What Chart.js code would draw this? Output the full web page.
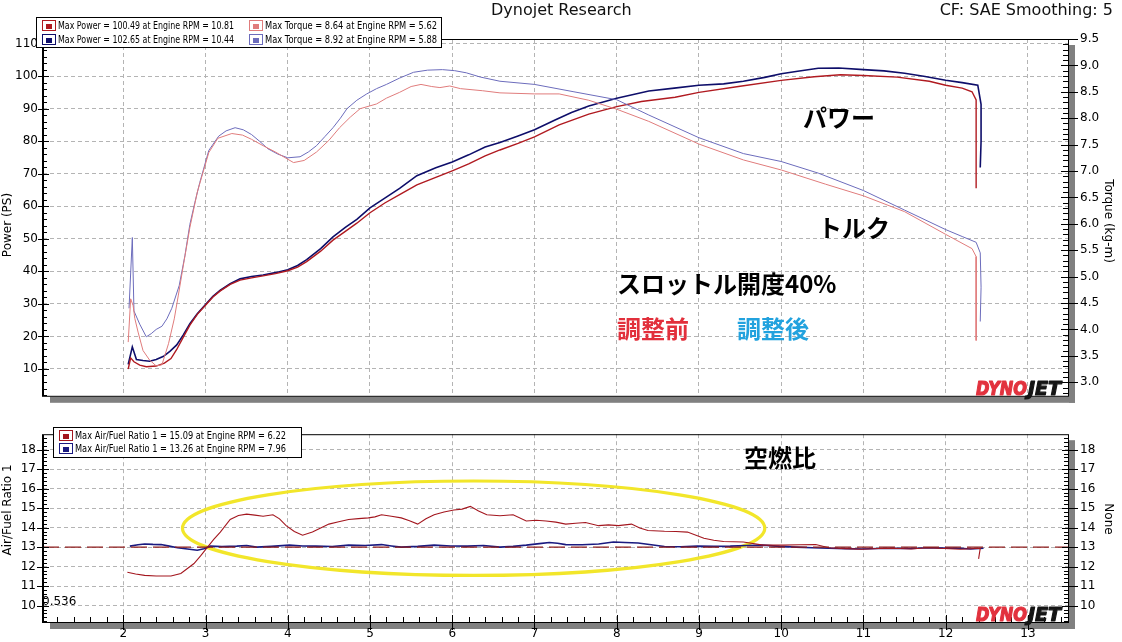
<!DOCTYPE html>
<html>
<head>
<meta charset="utf-8">
<script src="https://cdn.jsdelivr.net/npm/chart.js@4.4.1/dist/chart.umd.min.js"></script>
<style>
  body{margin:0;background:#fff;width:1122px;height:642px;overflow:hidden;position:relative;font-family:"DejaVu Sans",sans-serif}
  canvas{position:absolute;left:0}
  #c1{top:0}
  #c2{top:415px}
  .t{position:absolute;white-space:nowrap;line-height:1}
  .hd{font-size:16px;color:#111;top:2px}
  .jp{font-family:"Noto Sans CJK JP",sans-serif;font-weight:bold;font-size:24px;line-height:24px;color:#000}
</style>
</head>
<body>
<canvas id="c1" width="1122" height="415"></canvas>
<canvas id="c2" width="1122" height="227"></canvas>

<div class="t hd" style="left:491px">Dynojet Research</div>
<div class="t hd" style="right:9px">CF: SAE Smoothing: 5</div>

<div class="t jp" style="left:803px;top:105px">パワー</div>
<div class="t jp" style="left:818px;top:215px">トルク</div>
<div class="t jp" style="left:617px;top:271px">スロットル開度40%</div>
<div class="t jp" style="left:617px;top:316px;color:#e2303c">調整前</div>
<div class="t jp" style="left:737px;top:316px;color:#22a2de">調整後</div>
<div class="t jp" style="left:744px;top:445px">空燃比</div>

<script>
// ================= DATOS =================
const X_TICKS = [2,3,4,5,6,7,8,9,10,11,12,13];
const POWER_TICKS = [10,20,30,40,50,60,70,80,90,100,110];
const TORQUE_TICKS = [3.0,3.5,4.0,4.5,5.0,5.5,6.0,6.5,7.0,7.5,8.0,8.5,9.0,9.5];
const AFR_TICKS = [10,11,12,13,14,15,16,17,18];

// Potencia antes (rojo oscuro)
const PWR_BEFORE_RPM = [2.06,2.09,2.13,2.20,2.28,2.40,2.50,2.58,2.65,2.73,2.81,2.90,3.00,3.09,3.18,3.30,3.42,3.56,3.70,3.85,4.00,4.12,4.23,4.40,4.55,4.70,4.84,5.00,5.18,5.36,5.57,5.80,6.00,6.20,6.40,6.58,6.80,7.00,7.30,7.66,8.00,8.30,8.71,9.00,9.50,10.00,10.40,10.72,11.00,11.41,11.80,12.00,12.20,12.32,12.37,12.37];
const PWR_BEFORE = [10.0,13.4,12.2,11.2,10.7,10.9,11.8,13.2,16.0,19.8,23.5,26.8,29.6,32.1,34.0,36.0,37.3,38.0,38.6,39.3,40.2,41.3,43.0,46.2,49.6,52.3,54.8,58.0,61.0,63.6,66.6,68.9,70.9,73.0,75.5,77.3,79.3,81.3,85.0,88.3,90.6,92.2,93.5,95.0,96.9,98.7,99.8,100.4,100.2,99.7,98.4,97.2,96.3,95.2,92.7,65.5];

// Potencia después (azul marino)
const PWR_AFTER_RPM = [2.06,2.11,2.16,2.24,2.32,2.40,2.49,2.57,2.65,2.73,2.81,2.90,3.00,3.09,3.18,3.30,3.42,3.56,3.70,3.85,4.00,4.12,4.23,4.40,4.55,4.70,4.84,5.00,5.18,5.36,5.57,5.80,6.00,6.20,6.40,6.58,6.80,7.00,7.25,7.45,7.66,8.00,8.39,8.70,9.00,9.30,9.54,9.80,10.00,10.20,10.45,10.70,11.00,11.25,11.50,11.75,12.00,12.20,12.39,12.43,12.43,12.42];
const PWR_AFTER = [11.4,16.8,12.9,12.6,12.4,12.9,13.9,15.5,17.4,20.5,23.9,27.0,29.8,32.3,34.2,36.2,37.7,38.4,38.9,39.6,40.5,41.8,43.6,47.0,50.6,53.5,56.0,59.5,62.5,65.5,69.4,71.8,73.6,75.8,78.2,79.6,81.6,83.5,86.5,88.8,90.8,93.2,95.4,96.3,97.2,97.6,98.4,99.6,100.7,101.5,102.4,102.5,102.0,101.6,100.9,99.9,98.7,98.0,97.2,91.3,80.0,71.9];

// Torque antes (rojo claro)
const TRQ_BEFORE_RPM = [2.06,2.09,2.12,2.14,2.18,2.24,2.32,2.40,2.47,2.55,2.62,2.67,2.74,2.81,2.90,3.04,3.15,3.32,3.45,3.56,3.70,3.85,4.07,4.20,4.35,4.50,4.63,4.76,4.88,5.08,5.20,5.36,5.50,5.62,5.75,5.85,5.97,6.10,6.37,6.58,7.00,7.30,7.66,8.00,8.39,9.00,9.54,10.00,10.54,11.00,11.50,12.00,12.32,12.37,12.37];
const TRQ_BEFORE = [3.76,4.58,4.45,4.21,3.95,3.60,3.42,3.31,3.33,3.73,4.20,4.65,5.30,5.93,6.60,7.35,7.62,7.71,7.68,7.60,7.48,7.36,7.16,7.20,7.36,7.58,7.82,8.02,8.18,8.27,8.38,8.49,8.60,8.64,8.60,8.58,8.61,8.56,8.52,8.48,8.46,8.46,8.34,8.17,7.94,7.51,7.21,7.02,6.75,6.53,6.23,5.80,5.53,5.38,3.79];

// Torque después (azul claro)
const TRQ_AFTER_RPM = [2.07,2.11,2.13,2.20,2.28,2.34,2.40,2.47,2.53,2.59,2.68,2.75,2.81,2.87,2.93,3.04,3.16,3.25,3.36,3.46,3.56,3.66,3.76,3.88,4.00,4.15,4.25,4.35,4.45,4.55,4.64,4.72,4.84,4.96,5.08,5.20,5.36,5.53,5.70,5.88,6.03,6.17,6.34,6.58,7.00,7.48,8.00,8.39,9.00,9.54,10.00,10.45,11.00,11.50,12.00,12.20,12.37,12.42,12.43,12.42];
const TRQ_AFTER = [4.40,5.74,4.35,4.10,3.86,3.92,4.00,4.06,4.20,4.40,4.83,5.40,5.99,6.40,6.78,7.39,7.66,7.76,7.82,7.78,7.69,7.56,7.42,7.32,7.25,7.27,7.36,7.48,7.65,7.82,8.00,8.18,8.34,8.46,8.56,8.64,8.76,8.87,8.91,8.92,8.90,8.86,8.78,8.70,8.64,8.50,8.35,8.06,7.63,7.33,7.18,6.96,6.63,6.26,5.89,5.76,5.65,5.45,4.80,4.15];

// Air/Fuel antes / después
const AFR_BEFORE_RPM = [2.05,2.15,2.26,2.40,2.58,2.70,2.78,2.86,2.94,3.02,3.10,3.18,3.30,3.40,3.50,3.60,3.70,3.82,3.90,3.98,4.08,4.18,4.30,4.40,4.50,4.62,4.74,4.86,4.98,5.06,5.14,5.26,5.38,5.48,5.58,5.68,5.78,5.90,6.02,6.12,6.22,6.32,6.42,6.58,6.74,6.90,7.02,7.14,7.26,7.38,7.50,7.62,7.78,7.90,8.02,8.18,8.28,8.38,8.58,8.72,8.86,9.06,9.18,9.30,9.54,9.78,10.02,10.22,10.42,10.58,10.78,10.98,11.18,11.38,11.58,11.78,11.98,12.18,12.30,12.42,12.40];
const AFR_BEFORE = [11.71,11.62,11.55,11.52,11.52,11.65,11.90,12.16,12.55,12.97,13.40,13.77,14.42,14.62,14.69,14.64,14.58,14.66,14.45,14.10,13.80,13.61,13.77,13.98,14.18,14.30,14.42,14.46,14.50,14.55,14.66,14.58,14.50,14.35,14.18,14.45,14.66,14.80,14.90,14.95,15.09,14.85,14.66,14.61,14.66,14.34,14.38,14.34,14.28,14.18,14.22,14.26,14.10,14.14,14.10,14.18,13.98,13.85,13.81,13.80,13.77,13.45,13.35,13.29,13.26,13.10,13.10,13.12,13.13,12.97,12.92,12.89,12.93,12.94,12.90,12.97,12.93,12.89,12.92,12.94,12.40];
const AFR_AFTER_RPM = [2.08,2.18,2.26,2.36,2.46,2.56,2.66,2.78,2.90,2.98,3.06,3.20,3.38,3.50,3.62,3.80,4.02,4.18,4.34,4.54,4.74,4.94,5.14,5.26,5.38,5.58,5.78,5.98,6.18,6.38,6.58,6.74,6.90,7.06,7.18,7.28,7.38,7.58,7.78,7.96,8.10,8.26,8.42,8.58,8.78,8.98,9.18,9.38,9.58,9.78,9.98,10.18,10.38,10.58,10.78,10.98,11.18,11.38,11.58,11.78,11.98,12.18,12.30,12.46];
const AFR_AFTER = [13.05,13.12,13.16,13.14,13.13,13.05,12.97,12.90,12.84,12.92,13.05,13.03,13.05,13.08,13.00,13.04,13.10,13.06,13.05,13.03,13.10,13.08,13.13,13.06,13.00,13.04,13.10,13.06,13.05,13.08,13.00,13.04,13.10,13.18,13.24,13.20,13.13,13.12,13.16,13.26,13.24,13.21,13.12,13.03,13.02,13.05,13.04,13.05,13.08,13.10,13.04,13.00,12.97,12.94,12.92,12.90,12.93,12.94,12.93,12.97,12.95,12.94,12.90,12.94];
const AFR_TARGET = 13;

// elipse amarilla (centro y radios en unidades de datos)
const ELLIPSE = { rpm: 6.26, afr: 13.97, rRpm: 3.54, rAfr: 2.42 };

const LEGEND_TOP = [
  "Max Power = 100.49 at Engine RPM = 10.81", "Max Torque = 8.64 at Engine RPM = 5.62",
  "Max Power = 102.65 at Engine RPM = 10.44", "Max Torque = 8.92 at Engine RPM = 5.88"
];
const LEGEND_AFR = [
  "Max Air/Fuel Ratio 1 = 15.09 at Engine RPM = 6.22",
  "Max Air/Fuel Ratio 1 = 13.26 at Engine RPM = 7.96"
];

// ================= ESTILO =================
const C_PWR_B = "#b01a20", C_PWR_A = "#0e0e6a", C_TRQ_B = "#e07c7c", C_TRQ_A = "#6c6cbc";
const C_AFR_B = "#a3161e", C_AFR_A = "#1a1a80";
const GRID = "#b4b4b4";
const FONT = { family: "DejaVu Sans", size: 12 };
const X_MIN = 1.024, X_MAX = 13.487;

// ================= UTIL =================
const pts = (xs, ys) => xs.map((x, i) => ({ x, y: ys[i] }));
const fixTicks = list => s => { s.ticks = list.map(v => ({ value: v })); };

function yTicks(ctx, sc, lo, hi, step, x0, x1){
  const n = Math.round((hi - lo) / step);
  ctx.beginPath();
  for (let i = 0; i <= n; i++){
    const y = Math.round(sc.getPixelForValue(lo + i * step)) + 0.5;
    ctx.moveTo(x0, y); ctx.lineTo(x1, y);
  }
  ctx.stroke();
}
function xTicks(ctx, sc, lo, hi, step, y0, y1){
  const n = Math.round((hi - lo) / step);
  ctx.beginPath();
  for (let i = 0; i <= n; i++){
    const x = Math.round(sc.getPixelForValue(lo + i * step)) + 0.5;
    ctx.moveTo(x, y0); ctx.lineTo(x, y1);
  }
  ctx.stroke();
}
function frame(ctx, a){
  ctx.strokeStyle = "#000"; ctx.lineWidth = 1;
  ctx.strokeRect(a.left + 0.5, a.top + 0.5, a.right - a.left, a.bottom - a.top);
  ctx.beginPath(); ctx.moveTo(a.left - 0.5, a.top); ctx.lineTo(a.left - 0.5, a.bottom + 1); ctx.stroke();
}
function shadow(ctx, a){
  ctx.fillStyle = "#808080";
  ctx.fillRect(a.right + 1, a.top + 6, 6, a.bottom - a.top + 1);
  ctx.fillRect(a.left + 7, a.bottom + 1, a.right - a.left, 6);
}
function legend(ctx, box, items){
  ctx.fillStyle = "#fff"; ctx.fillRect(box.x, box.y, box.w, box.h);
  ctx.strokeStyle = "#000"; ctx.lineWidth = 1;
  ctx.strokeRect(box.x + 0.5, box.y + 0.5, box.w, box.h);
  ctx.font = '10px "DejaVu Sans"'; ctx.textBaseline = "middle"; ctx.textAlign = "left";
  items.forEach(it => {
    ctx.strokeStyle = it.color;
    ctx.strokeRect(it.x + 0.5, it.y - 5.5, 13, 10);
    ctx.fillStyle = it.color; ctx.fillRect(it.x + 4, it.y - 2, 6, 5);
    ctx.fillStyle = "#000"; ctx.fillText(it.text, it.x + 16, it.y + 0.5, it.tw);
  });
}
function logo(ctx, a){
  ctx.save();
  ctx.font = 'italic bold 19px "DejaVu Sans"'; ctx.textBaseline = "alphabetic"; ctx.textAlign = "left";
  ctx.lineWidth = 1.2; ctx.lineJoin = "round";
  ctx.fillStyle = ctx.strokeStyle = "#e2323e";
  ctx.fillText("DYNO", a.right - 92, a.bottom - 1, 51);
  ctx.strokeText("DYNO", a.right - 92, a.bottom - 1, 51);
  ctx.fillStyle = ctx.strokeStyle = "#151515";
  ctx.fillText("JET", a.right - 40, a.bottom - 1, 38);
  ctx.strokeText("JET", a.right - 40, a.bottom - 1, 38);
  ctx.restore();
}
function vText(ctx, txt, x, y, ang){
  ctx.save(); ctx.translate(x, y); ctx.rotate(ang);
  ctx.font = '12px "DejaVu Sans"'; ctx.fillStyle = "#000";
  ctx.textAlign = "center"; ctx.textBaseline = "middle";
  ctx.fillText(txt, 0, 0); ctx.restore();
}

// ================= PLUGINS =================
const dynoTop = {
  id: "dynoTop",
  beforeDraw(chart){ shadow(chart.ctx, chart.chartArea); },
  afterDraw(chart){
    const ctx = chart.ctx, a = chart.chartArea, s = chart.scales;
    frame(ctx, a);
    ctx.strokeStyle = "#000"; ctx.lineWidth = 1;
    yTicks(ctx, s.yP, 2, 110, 2, a.left, a.left + 4);
    yTicks(ctx, s.yP, 10, 110, 10, a.left - 5, a.left + 6);
    yTicks(ctx, s.yT, 2.8, 9.4, 0.1, a.right - 5, a.right);
    yTicks(ctx, s.yT, 3.0, 9.5, 0.5, a.right - 7, a.right + 10);
    logo(ctx, a);
    legend(ctx, { x: 36, y: 17, w: 405, h: 30 }, [
      { x: 42, y: 26, color: C_PWR_B, text: LEGEND_TOP[0], tw: 176 },
      { x: 249, y: 26, color: C_TRQ_B, text: LEGEND_TOP[1], tw: 172 },
      { x: 42, y: 40, color: C_PWR_A, text: LEGEND_TOP[2], tw: 176 },
      { x: 249, y: 40, color: C_TRQ_A, text: LEGEND_TOP[3], tw: 172 }
    ]);
    vText(ctx, "Power (PS)", 8, 225, -Math.PI / 2);
    vText(ctx, "Torque (kg-m)", 1108, 221, Math.PI / 2);
  }
};

const dynoAfr = {
  id: "dynoAfr",
  beforeDraw(chart){ shadow(chart.ctx, chart.chartArea); },
  beforeDatasetsDraw(chart){
    const ctx = chart.ctx, sx = chart.scales.x, sy = chart.scales.yA;
    const cx = sx.getPixelForValue(ELLIPSE.rpm), cy = sy.getPixelForValue(ELLIPSE.afr);
    const rx = sx.getPixelForValue(ELLIPSE.rpm + ELLIPSE.rRpm) - cx;
    const ry = cy - sy.getPixelForValue(ELLIPSE.afr + ELLIPSE.rAfr);
    ctx.save();
    ctx.strokeStyle = "#f2e62a"; ctx.lineWidth = 3.2;
    ctx.beginPath(); ctx.ellipse(cx, cy, rx, ry, 0, 0, Math.PI * 2); ctx.stroke();
    ctx.restore();
  },
  afterDraw(chart){
    const ctx = chart.ctx, a = chart.chartArea, s = chart.scales;
    frame(ctx, a);
    ctx.strokeStyle = "#000"; ctx.lineWidth = 1;
    yTicks(ctx, s.yA, 9.2, 18.6, 0.2, a.left, a.left + 4);
    yTicks(ctx, s.yA, 10, 18, 1, a.left - 6, a.left + 6);
    yTicks(ctx, s.yR, 9.2, 18.6, 0.2, a.right - 4, a.right);
    yTicks(ctx, s.yR, 10, 18, 1, a.right - 6, a.right + 10);
    xTicks(ctx, s.x, 1.2, 13.4, 0.2, a.bottom - 5, a.bottom);
    xTicks(ctx, s.x, 2, 13, 1, a.bottom - 7, a.bottom + 8);
    logo(ctx, a);
    legend(ctx, { x: 53, y: 12, w: 248, h: 30 }, [
      { x: 59, y: 21, color: C_AFR_B, text: LEGEND_AFR[0], tw: 211 },
      { x: 59, y: 34, color: C_AFR_A, text: LEGEND_AFR[1], tw: 211 }
    ]);
    ctx.font = '12px "DejaVu Sans"'; ctx.fillStyle = "#000";
    ctx.textAlign = "left"; ctx.textBaseline = "middle";
    ctx.fillText("0.536", a.left - 1, 187);
    vText(ctx, "Air/Fuel Ratio 1", 8, 95, -Math.PI / 2);
    vText(ctx, "None", 1108, 104, Math.PI / 2);
  }
};

// ================= GRÁFICOS =================
const line = (label, data, color, width, axis, dash) => ({
  label, data, borderColor: color, backgroundColor: color, borderWidth: width,
  borderDash: dash || [], pointRadius: 0, tension: 0, fill: false, yAxisID: axis
});

const xScale = (showLabels, h) => ({
  type: "linear", min: X_MIN, max: X_MAX,
  afterBuildTicks: fixTicks(X_TICKS),
  afterFit: s => { s.height = h; },
  grid: { color: GRID, drawTicks: false },
  border: { display: false, dash: [4, 3] },
  ticks: { display: showLabels, padding: 5, color: "#000", font: FONT, autoSkip: false, maxRotation: 0 }
});

new Chart(document.getElementById("c1"), {
  type: "line",
  data: { datasets: [
    line("Torque antes", pts(TRQ_BEFORE_RPM, TRQ_BEFORE), C_TRQ_B, 1, "yT"),
    line("Torque después", pts(TRQ_AFTER_RPM, TRQ_AFTER), C_TRQ_A, 1, "yT"),
    line("Power antes", pts(PWR_BEFORE_RPM, PWR_BEFORE), C_PWR_B, 1.4, "yP"),
    line("Power después", pts(PWR_AFTER_RPM, PWR_AFTER), C_PWR_A, 1.6, "yP")
  ]},
  options: {
    responsive: false, animation: false,
    layout: { padding: { top: 39, left: 0, right: 0, bottom: 0 } },
    plugins: { legend: { display: false }, tooltip: { enabled: false } },
    scales: {
      x: xScale(false, 8),
      yP: {
        type: "linear", position: "left", min: 1.76, max: 111.4,
        afterBuildTicks: fixTicks(POWER_TICKS),
        afterFit: s => { s.width = 43; },
        grid: { color: GRID, drawTicks: false },
        border: { display: false, dash: [4, 3] },
        ticks: { padding: 5, color: "#000", font: FONT, autoSkip: false }
      },
      yT: {
        type: "linear", position: "right", min: 2.743, max: 9.5,
        afterBuildTicks: fixTicks(TORQUE_TICKS),
        afterFit: s => { s.width = 54; },
        grid: { display: false, drawTicks: false },
        border: { display: false },
        ticks: { padding: 12, color: "#000", font: FONT, autoSkip: false, callback: v => v.toFixed(1) }
      }
    }
  },
  plugins: [dynoTop]
});

new Chart(document.getElementById("c2"), {
  type: "line",
  data: { datasets: [
    line("AFR objetivo", [{ x: X_MIN, y: AFR_TARGET }, { x: X_MAX, y: AFR_TARGET }], "#8e1c1c", 1.4, "yA", [16, 6]),
    line("AFR antes", pts(AFR_BEFORE_RPM, AFR_BEFORE), C_AFR_B, 1.1, "yA"),
    line("AFR después", pts(AFR_AFTER_RPM, AFR_AFTER), C_AFR_A, 1.6, "yA")
  ]},
  options: {
    responsive: false, animation: false,
    layout: { padding: { top: 8, left: 0, right: 0, bottom: 0 } },
    plugins: { legend: { display: false }, tooltip: { enabled: false } },
    scales: {
      x: xScale(true, 20),
      yA: {
        type: "linear", position: "left", min: 9.16, max: 18.79,
        afterBuildTicks: fixTicks(AFR_TICKS),
        afterFit: s => { s.width = 43; },
        grid: { color: GRID, drawTicks: false },
        border: { display: false, dash: [4, 3] },
        ticks: { padding: 7, color: "#000", font: FONT, autoSkip: false }
      },
      yR: {
        type: "linear", position: "right", min: 9.16, max: 18.79,
        afterBuildTicks: fixTicks(AFR_TICKS),
        afterFit: s => { s.width = 54; },
        grid: { display: false, drawTicks: false },
        border: { display: false },
        ticks: { padding: 12, color: "#000", font: FONT, autoSkip: false }
      }
    }
  },
  plugins: [dynoAfr]
});
</script>
</body>
</html>
